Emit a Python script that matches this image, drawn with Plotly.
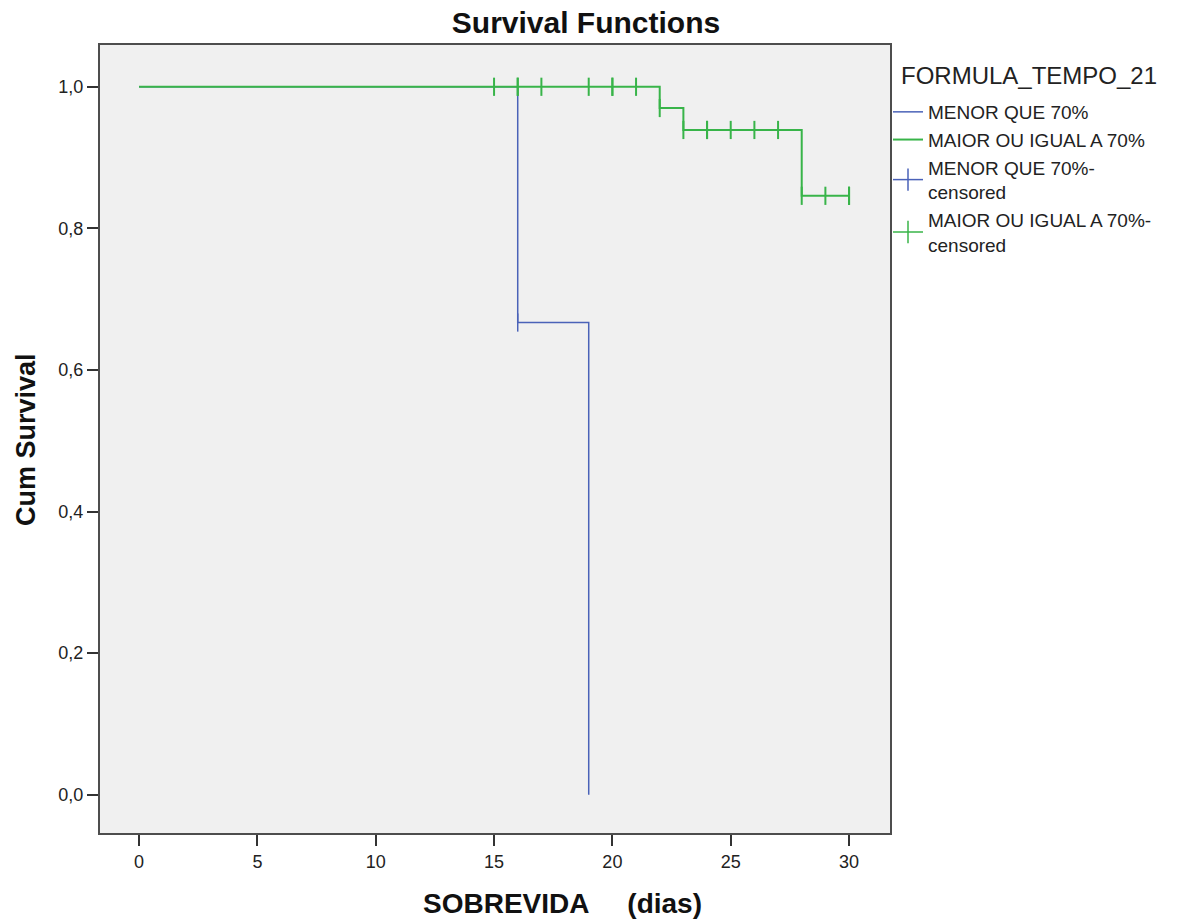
import plotly.graph_objects as go

# Data
green_t = [0, 22, 23, 28, 30]
green_s = [1.0, 0.970, 0.939, 0.846, 0.846]
blue_t = [0, 16, 19]
blue_s = [1.0, 0.667, 0.0]
green_cens_t = [15, 16, 16, 17, 19, 20, 20, 21, 22, 23, 24, 24, 25, 26, 27, 28, 29, 30, 30]
green_cens_s = [1.0, 1.0, 1.0, 1.0, 1.0, 1.0, 1.0, 1.0, 0.970, 0.939, 0.939, 0.939, 0.939, 0.939, 0.939,
                0.846, 0.846, 0.846, 0.846]
blue_cens_t = [16]
blue_cens_s = [0.667]
y_ticks = [0, 0.2, 0.4, 0.6, 0.8, 1.0]
x_ticks = [0, 5, 10, 15, 20, 25, 30]

BLUE = "#4a62b8"
GREEN = "#38b449"
font = "Liberation Sans, Arial, sans-serif"

L, R, T, B = 100, 890, 45, 833
PW, PH = R - L, B - T

fig = go.Figure()
fig.add_trace(go.Scatter(x=blue_t, y=blue_s, mode="lines", line=dict(color=BLUE, width=1.5, shape="hv"),
                         name="MENOR QUE 70%"))
fig.add_trace(go.Scatter(x=green_t, y=green_s, mode="lines", line=dict(color=GREEN, width=2, shape="hv"),
                         name="MAIOR OU IGUAL A 70%"))
fig.add_trace(go.Scatter(x=blue_cens_t, y=blue_cens_s, mode="markers", showlegend=False,
                         marker=dict(symbol="line-ns-open", size=13, color=BLUE,
                                     line=dict(color=BLUE, width=1.5))))
fig.add_trace(go.Scatter(x=green_cens_t, y=green_cens_s, mode="markers", showlegend=False,
                         marker=dict(symbol="line-ns-open", size=13, color=GREEN,
                                     line=dict(color=GREEN, width=2))))
# legend entries for censored
fig.add_trace(go.Scatter(x=[None], y=[None], mode="lines+markers", name="MENOR QUE 70%-<br>censored",
                         line=dict(color=BLUE, width=1.5),
                         marker=dict(symbol="line-ns-open", size=16, color=BLUE,
                                     line=dict(color=BLUE, width=1.5))))
fig.add_trace(go.Scatter(x=[None], y=[None], mode="lines+markers", name="MAIOR OU IGUAL A 70%-<br>censored",
                         line=dict(color=GREEN, width=1.5),
                         marker=dict(symbol="line-ns-open", size=16, color=GREEN,
                                     line=dict(color=GREEN, width=1.5))))

fig.update_layout(
    width=1188, height=922,
    margin=dict(l=L, r=1188 - R, t=T, b=922 - B, autoexpand=False),
    paper_bgcolor="white", plot_bgcolor="#f0f0f0",
    separators=",.",
    font=dict(family=font, size=17, color="#222"),
    title=dict(text="<b>Survival Functions</b>", x=586 / 1188, xref="container", xanchor="center",
               y=1 - 22 / 922, yref="container", yanchor="middle",
               font=dict(family=font, size=30, color="#111")),
    showlegend=True,
    legend=dict(x=(888 - L) / PW, xanchor="left", y=1 - (93 - T) / PH, yanchor="top",
                bgcolor="rgba(0,0,0,0)", borderwidth=0,
                font=dict(size=19, color="#222"), tracegroupgap=0, itemwidth=30),
    xaxis=dict(range=[-1.65, 31.73], tickvals=x_ticks, ticks="outside", ticklen=11, tickwidth=2,
               tickcolor="#333", showgrid=False, zeroline=False, showline=True, mirror=True,
               linecolor="#4d4d4d", linewidth=2, tickfont=dict(size=18, color="#222"),
               automargin=False),
    yaxis=dict(range=[-0.054, 1.059], tickvals=y_ticks, tickformat=".1f", ticks="outside", ticklen=11,
               tickwidth=2, tickcolor="#333", showgrid=False, zeroline=False, showline=True, mirror=True,
               linecolor="#4d4d4d", linewidth=2, tickfont=dict(size=18, color="#222"),
               automargin=False),
)
fig.add_annotation(text="FORMULA_TEMPO_21", xref="paper", yref="paper", x=(899 - L) / PW,
                   y=1 - (76 - T) / PH, xanchor="left", yanchor="middle", showarrow=False,
                   font=dict(family=font, size=24, color="#222"))
fig.add_annotation(text="<b>SOBREVIDA     (dias)</b>", xref="paper", yref="paper", x=(562 - L) / PW,
                   y=-(903 - B) / PH, xanchor="center", yanchor="middle", showarrow=False,
                   font=dict(family=font, size=28, color="#111"))
fig.add_annotation(text="<b>Cum Survival</b>", xref="paper", yref="paper", x=-(100 - 26) / PW,
                   y=1 - (440 - T) / PH, xanchor="center", yanchor="middle", showarrow=False,
                   textangle=-90, font=dict(family=font, size=27, color="#111"))

fig.write_html("out.html", post_script="document.body.style.margin='0';",
               config={"displayModeBar": False})
